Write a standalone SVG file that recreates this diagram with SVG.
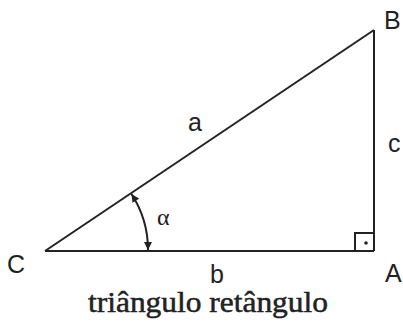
<svg xmlns="http://www.w3.org/2000/svg" width="403" height="322" viewBox="0 0 403 322">
<style>
.ln{fill:none;stroke:#222;stroke-width:2}
.lbl{font-family:"Liberation Sans",Arial,sans-serif;font-size:25px;fill:#222}
.ser{font-family:"Liberation Serif","Times New Roman",serif;fill:#222}
</style>
<defs>
<marker id="ah" viewBox="0 0 10 10" refX="10" refY="5" markerWidth="4" markerHeight="4" orient="auto-start-reverse" markerUnits="strokeWidth">
<path d="M0,0 L10,5 L0,10 z" fill="#222"/>
</marker>
</defs>
<rect width="403" height="322" fill="#fff"/>
<g id="connectors">
<path id="side-a" class="ln" d="M45,251 L374,30"/>
<path id="side-c" class="ln" d="M374,30 L374,251"/>
<path id="side-b" class="ln" d="M45,251 L374,251"/>
<path id="right-angle" class="ln" d="M355,251 L355,233 L374,233"/>
<circle cx="366" cy="243" r="1.8" fill="#222"/>
<path id="angle-arc" class="ln" d="M148,250 A103,103 0 0 0 131.5,194" marker-start="url(#ah)" marker-end="url(#ah)"/>
</g>
<g id="B"><text class="lbl" x="384" y="29">B</text></g>
<g id="A"><text class="lbl" x="385" y="282">A</text></g>
<g id="C"><text class="lbl" x="7" y="273">C</text></g>
<g id="la"><text class="lbl" x="188" y="131">a</text></g>
<g id="lb"><text class="lbl" x="210" y="283">b</text></g>
<g id="lc"><text class="lbl" x="388" y="152">c</text></g>
<g id="alpha"><text class="ser" x="157" y="225" font-size="24">α</text></g>
<g id="title"><text class="ser" x="88" y="312" font-size="29" stroke="#222" stroke-width="0.5" textLength="240" lengthAdjust="spacingAndGlyphs">triângulo retângulo</text></g>
</svg>
